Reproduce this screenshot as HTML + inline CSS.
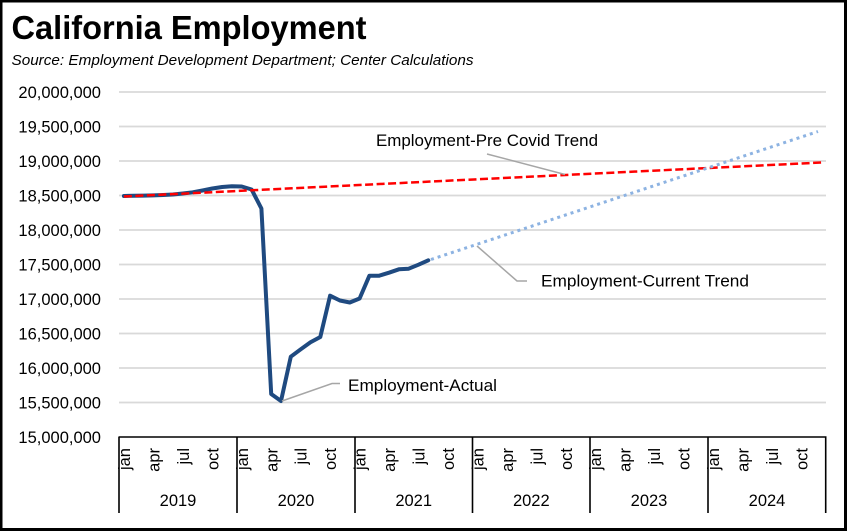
<!DOCTYPE html>
<html>
<head>
<meta charset="utf-8">
<style>
  html, body { margin: 0; padding: 0; background: #fff; }
  body { width: 847px; height: 531px; overflow: hidden; }
  svg { display: block; }
  text { font-family: "Liberation Sans", Arial, sans-serif; fill: #000; }
</style>
</head>
<body>
<svg width="847" height="531" viewBox="0 0 847 531" xmlns="http://www.w3.org/2000/svg">
  <rect x="0" y="0" width="847" height="531" fill="#fff"/>
  <!-- border -->
  <rect x="1" y="1" width="844.5" height="528.5" fill="none" stroke="#000" stroke-width="3"/>

  <!-- title -->
  <text x="11.5" y="39" font-size="33" font-weight="bold" textLength="355" lengthAdjust="spacingAndGlyphs">California Employment</text>
  <text x="11.5" y="65" font-size="14.5" font-style="italic" textLength="462" lengthAdjust="spacingAndGlyphs">Source:  Employment Development Department; Center Calculations</text>

  <!-- gridlines -->
  <g stroke="#D9D9D9" stroke-width="1.7">
    <line x1="119" y1="92" x2="826" y2="92"/>
    <line x1="119" y1="126.5" x2="826" y2="126.5"/>
    <line x1="119" y1="161" x2="826" y2="161"/>
    <line x1="119" y1="195.5" x2="826" y2="195.5"/>
    <line x1="119" y1="230" x2="826" y2="230"/>
    <line x1="119" y1="264.5" x2="826" y2="264.5"/>
    <line x1="119" y1="299" x2="826" y2="299"/>
    <line x1="119" y1="333.5" x2="826" y2="333.5"/>
    <line x1="119" y1="368" x2="826" y2="368"/>
    <line x1="119" y1="402.5" x2="826" y2="402.5"/>
  </g>

  <!-- y labels -->
  <g font-size="16.5" text-anchor="end">
    <text x="101" y="98">20,000,000</text>
    <text x="101" y="132.5">19,500,000</text>
    <text x="101" y="167">19,000,000</text>
    <text x="101" y="201.5">18,500,000</text>
    <text x="101" y="236">18,000,000</text>
    <text x="101" y="270.5">17,500,000</text>
    <text x="101" y="305">17,000,000</text>
    <text x="101" y="339.5">16,500,000</text>
    <text x="101" y="374">16,000,000</text>
    <text x="101" y="408.5">15,500,000</text>
    <text x="101" y="443">15,000,000</text>
  </g>

  <!-- x axis -->
  <g stroke="#000" stroke-width="1.6">
    <line x1="118.5" y1="437" x2="826.5" y2="437"/>
    <line x1="119" y1="437" x2="119" y2="513"/>
    <line x1="237" y1="437" x2="237" y2="513"/>
    <line x1="355" y1="437" x2="355" y2="513"/>
    <line x1="472.5" y1="437" x2="472.5" y2="513"/>
    <line x1="590" y1="437" x2="590" y2="513"/>
    <line x1="708" y1="437" x2="708" y2="513"/>
    <line x1="825.7" y1="437" x2="825.7" y2="513"/>
  </g>

  <!-- month labels -->
  <g font-size="16.5" text-anchor="end">
    <text transform="translate(130,448) rotate(-90)">jan</text>
    <text transform="translate(159.5,448) rotate(-90)">apr</text>
    <text transform="translate(188.8,448) rotate(-90)">jul</text>
    <text transform="translate(218.3,448) rotate(-90)">oct</text>

    <text transform="translate(247.8,448) rotate(-90)">jan</text>
    <text transform="translate(277.3,448) rotate(-90)">apr</text>
    <text transform="translate(306.7,448) rotate(-90)">jul</text>
    <text transform="translate(336.2,448) rotate(-90)">oct</text>

    <text transform="translate(365.6,448) rotate(-90)">jan</text>
    <text transform="translate(395.1,448) rotate(-90)">apr</text>
    <text transform="translate(424.5,448) rotate(-90)">jul</text>
    <text transform="translate(454,448) rotate(-90)">oct</text>

    <text transform="translate(483.4,448) rotate(-90)">jan</text>
    <text transform="translate(512.9,448) rotate(-90)">apr</text>
    <text transform="translate(542.3,448) rotate(-90)">jul</text>
    <text transform="translate(571.8,448) rotate(-90)">oct</text>

    <text transform="translate(601.2,448) rotate(-90)">jan</text>
    <text transform="translate(630.7,448) rotate(-90)">apr</text>
    <text transform="translate(660.1,448) rotate(-90)">jul</text>
    <text transform="translate(689.6,448) rotate(-90)">oct</text>

    <text transform="translate(719,448) rotate(-90)">jan</text>
    <text transform="translate(748.5,448) rotate(-90)">apr</text>
    <text transform="translate(777.9,448) rotate(-90)">jul</text>
    <text transform="translate(807.4,448) rotate(-90)">oct</text>
  </g>

  <!-- year labels -->
  <g font-size="16.5" text-anchor="middle">
    <text x="178" y="506">2019</text>
    <text x="296" y="506">2020</text>
    <text x="413.7" y="506">2021</text>
    <text x="531.3" y="506">2022</text>
    <text x="649" y="506">2023</text>
    <text x="767" y="506">2024</text>
  </g>

  <!-- actual series -->
  <polyline fill="none" stroke="#1F4A80" stroke-width="4" stroke-linejoin="round" stroke-linecap="round"
    points="123.9,196 133.7,195.8 143.5,195.6 153.4,195.4 163.2,195 173,194.5 182.8,193.5 192.6,192.3 202.5,190.5 212.3,188.5 222.1,187 231.9,186.2 241.7,186.5 251.6,189.5 261.4,208.5 271.2,394 281,401 290.8,356.7 300.7,349.3 310.5,342.3 320.3,337 330.1,295.7 339.9,300.5 349.8,302.5 359.6,298.5 369.4,275.7 379.2,275.7 389,272.7 398.9,269.3 408.7,268.7 418.5,264.7 428.3,260.3"/>

  <!-- pre covid trend -->
  <line x1="123.9" y1="196.5" x2="821.5" y2="162.5" stroke="#FF0000" stroke-width="2.5" stroke-dasharray="8,3.5"/>

  <!-- current trend -->
  <line x1="431" y1="259.5" x2="818" y2="131.5" stroke="#8DB3E2" stroke-width="3" stroke-dasharray="3,4"/>

  <!-- leader lines -->
  <g fill="none" stroke="#A6A6A6" stroke-width="1.5">
    <polyline points="487,154 565,174.5"/>
    <polyline points="477,246 517,281 527,281"/>
    <polyline points="282,401 332,383.5 340,383.5"/>
  </g>

  <!-- annotations -->
  <g font-size="16.5">
    <text x="376" y="146" textLength="222" lengthAdjust="spacingAndGlyphs">Employment-Pre Covid Trend</text>
    <text x="541" y="286.5" textLength="208" lengthAdjust="spacingAndGlyphs">Employment-Current Trend</text>
    <text x="348" y="391" textLength="149" lengthAdjust="spacingAndGlyphs">Employment-Actual</text>
  </g>
</svg>
</body>
</html>
